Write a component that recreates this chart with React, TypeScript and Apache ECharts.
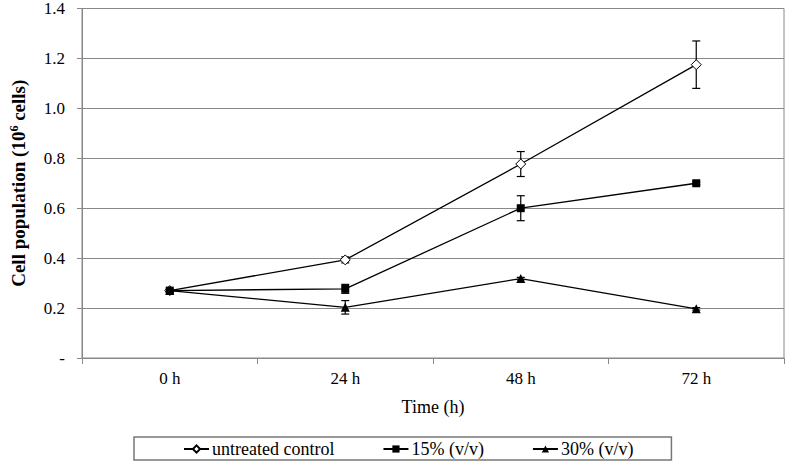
import React, { useEffect, useRef } from "react";
import * as echarts from "echarts";

const categories = ["0 h", "24 h", "48 h", "72 h"];
const untreated = [0.27, 0.393, 0.777, 1.175];
const untreatedErr = [0.005, 0.012, 0.05, 0.095];
const pct15 = [0.27, 0.277, 0.6, 0.7];
const pct15Err = [0.005, 0.018, 0.05, 0.005];
const pct30 = [0.27, 0.203, 0.318, 0.197];
const pct30Err = [0.005, 0.027, 0.005, 0.005];
const yTicks = [0, 0.2, 0.4, 0.6, 0.8, 1.0, 1.2, 1.4];

const FONT = "Liberation Serif";

function errSeries(name: string, vals: number[], errs: number[]) {
  const data = vals.map((v, i) => [i, v - errs[i], v + errs[i]]);
  return {
    type: "custom",
    name: name + "-err",
    silent: true,
    z: 1,
    renderItem: (params: any, api: any) => {
      const x = api.value(0);
      const lo = api.coord([x, api.value(1)]);
      const hi = api.coord([x, api.value(2)]);
      const w = 4;
      const style = { stroke: "#000", lineWidth: 1.2 };
      return {
        type: "group",
        children: [
          { type: "line", shape: { x1: lo[0], y1: lo[1], x2: hi[0], y2: hi[1] }, style },
          { type: "line", shape: { x1: lo[0] - w, y1: lo[1], x2: lo[0] + w, y2: lo[1] }, style },
          { type: "line", shape: { x1: hi[0] - w, y1: hi[1], x2: hi[0] + w, y2: hi[1] }, style },
        ],
      };
    },
    data,
  };
}

export default function App() {
  const ref = useRef<HTMLDivElement>(null);
  useEffect(() => {
    const chart = echarts.init(ref.current!, null, { renderer: "svg" });
    const lineStyle = { color: "#000", width: 1.3 };
    chart.setOption({
      animation: false,
      textStyle: { fontFamily: FONT },
      grid: {
        left: 78,
        right: 3,
        top: 7,
        bottom: 106,
        show: true,
        borderColor: "#888",
        borderWidth: 1,
      },
      legend: {
        left: 134,
        top: 437,
        itemGap: 48,
        itemWidth: 25,
        itemHeight: 9,
        padding: [3, 38, 2, 49],
        borderColor: "#777",
        borderWidth: 1.5,
        textStyle: { fontFamily: FONT, fontSize: 18, color: "#000", padding: [0, 0, 0, -2] },
        data: ["untreated control", "15% (v/v)", "30% (v/v)"],
      },
      xAxis: {
        type: "category",
        data: categories,
        boundaryGap: true,
        axisLine: { lineStyle: { color: "#888" } },
        axisTick: { show: true, length: 6, lineStyle: { color: "#888" } },
        axisLabel: { fontFamily: FONT, fontSize: 17, color: "#000", margin: 12 },
        name: "Time (h)",
        nameLocation: "middle",
        nameGap: 49,
        nameTextStyle: { fontFamily: FONT, fontSize: 18, color: "#000", verticalAlign: "middle" },
      },
      yAxis: {
        type: "value",
        min: 0,
        max: 1.4,
        interval: 0.2,
        axisLine: { show: true, lineStyle: { color: "#888" } },
        axisTick: { show: true, length: 5, lineStyle: { color: "#888" } },
        splitLine: { lineStyle: { color: "#888", width: 1 } },
        axisLabel: {
          fontFamily: FONT,
          fontSize: 17,
          color: "#000",
          margin: 17,
          formatter: (v: number) => (v === 0 ? "-" : yTicks.includes(Math.round(v * 10) / 10) ? v.toFixed(1) : ""),
        },
        name: "Cell population (10{sup|6} cells)",
        nameLocation: "middle",
        nameGap: 64,
        nameTextStyle: {
          fontFamily: FONT,
          fontSize: 19,
          fontWeight: "bold",
          color: "#000",
          verticalAlign: "middle",
          rich: {
            sup: { fontFamily: FONT, fontSize: 12, fontWeight: "bold", color: "#000", verticalAlign: "top", padding: [0, 0, 8, 0] },
          },
        },
      },
      series: [
        errSeries("untreated", untreated, untreatedErr),
        errSeries("15", pct15, pct15Err),
        errSeries("30", pct30, pct30Err),
        {
          type: "line",
          name: "untreated control",
          data: untreated,
          symbol: "diamond",
          symbolSize: 10,
          lineStyle,
          itemStyle: { color: "#fff", borderColor: "#000", borderWidth: 1 },
          z: 3,
        },
        {
          type: "line",
          name: "15% (v/v)",
          data: pct15,
          symbol: "rect",
          symbolSize: 8,
          lineStyle,
          itemStyle: { color: "#000" },
          z: 4,
        },
        {
          type: "line",
          name: "30% (v/v)",
          data: pct30,
          symbol: "triangle",
          symbolSize: 9,
          lineStyle,
          itemStyle: { color: "#000" },
          z: 4,
        },
      ],
    });
    return () => chart.dispose();
  }, []);
  return <div ref={ref} style={{ width: 787, height: 464, position: "absolute", left: 0, top: 0 }} />;
}
